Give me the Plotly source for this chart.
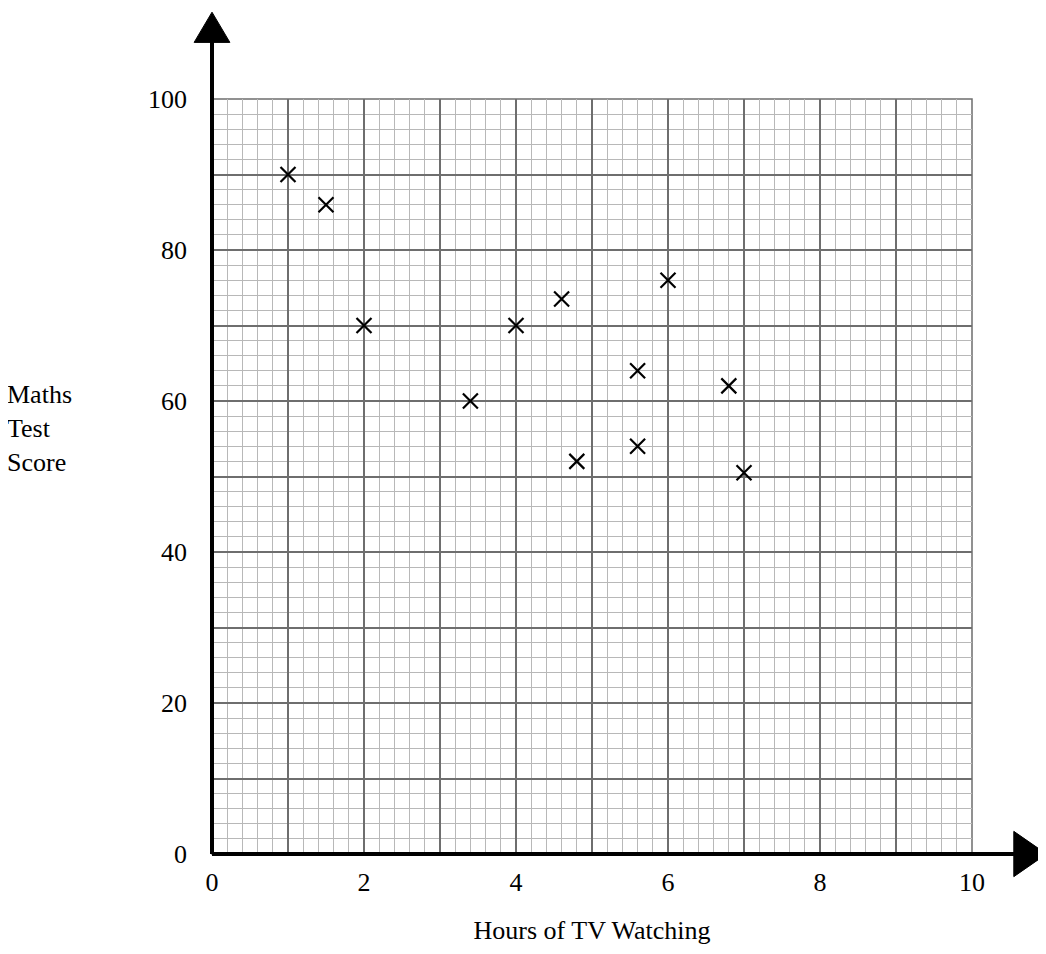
import plotly.graph_objects as go

hours = [1.0, 1.5, 2.0, 3.4, 4.0, 4.6, 4.8, 5.6, 5.6, 6.0, 6.8, 7.0]
scores = [90, 86, 70, 60, 70, 73.5, 52, 64, 54, 76, 62, 50.5]
x_ticks = list(range(0, 11))
x_labels = [str(v) if v % 2 == 0 else "" for v in x_ticks]
y_ticks = list(range(0, 101, 10))
y_labels = [str(v) if v % 20 == 0 else "" for v in y_ticks]

font = dict(family="Liberation Serif", size=26, color="black")

fig = go.Figure(go.Scatter(
    x=hours, y=scores, mode="markers",
    marker=dict(symbol="x-thin", size=15, line=dict(width=2.2, color="black")),
    hoverinfo="x+y"))

grid_major = "#6e6e6e"
grid_minor = "#b8b8b8"
fig.update_xaxes(range=[0, 10], tickvals=x_ticks, ticktext=x_labels,
                 showgrid=True, gridcolor=grid_major, gridwidth=1.5,
                 minor=dict(dtick=0.2, showgrid=True, gridcolor=grid_minor, gridwidth=1),
                 zeroline=False, showline=False, ticks="", tickfont=font, ticklabelstandoff=10,
                 title=dict(text="Hours of TV Watching", font=font, standoff=24))
fig.update_yaxes(range=[0, 100], tickvals=y_ticks, ticktext=y_labels,
                 showgrid=True, gridcolor=grid_major, gridwidth=1.5,
                 minor=dict(dtick=2, showgrid=True, gridcolor=grid_minor, gridwidth=1),
                 zeroline=False, showline=False, ticks="", tickfont=font, ticklabelstandoff=24)

fig.add_shape(type="rect", xref="paper", yref="paper", x0=0, x1=1, y0=0, y1=1,
              line=dict(color=grid_major, width=1.5), layer="below")
fig.add_shape(type="line", xref="paper", yref="paper", x0=0, x1=1.075, y0=0, y1=0,
              line=dict(color="black", width=4))
fig.add_shape(type="line", xref="paper", yref="paper", x0=0, x1=0, y0=0, y1=1.09,
              line=dict(color="black", width=4))
fig.add_shape(type="path", xref="paper", yref="paper",
              path="M 1.055 -0.03 L 1.098 0 L 1.055 0.03 Z", fillcolor="black", line=dict(color="black", width=1))
fig.add_shape(type="path", xref="paper", yref="paper",
              path="M -0.0235 1.075 L 0 1.115 L 0.0235 1.075 Z", fillcolor="black", line=dict(color="black", width=1))

fig.add_annotation(xref="paper", yref="paper", x=-0.272, y=0.63, xanchor="left", yanchor="top",
                   text="Maths<br>Test<br>Score", showarrow=False, align="left", font=font)

fig.update_layout(width=1046, height=954, margin=dict(l=204, r=82, t=91, b=108),
                  plot_bgcolor="white", paper_bgcolor="white", showlegend=False)
fig.write_html("out.html")
